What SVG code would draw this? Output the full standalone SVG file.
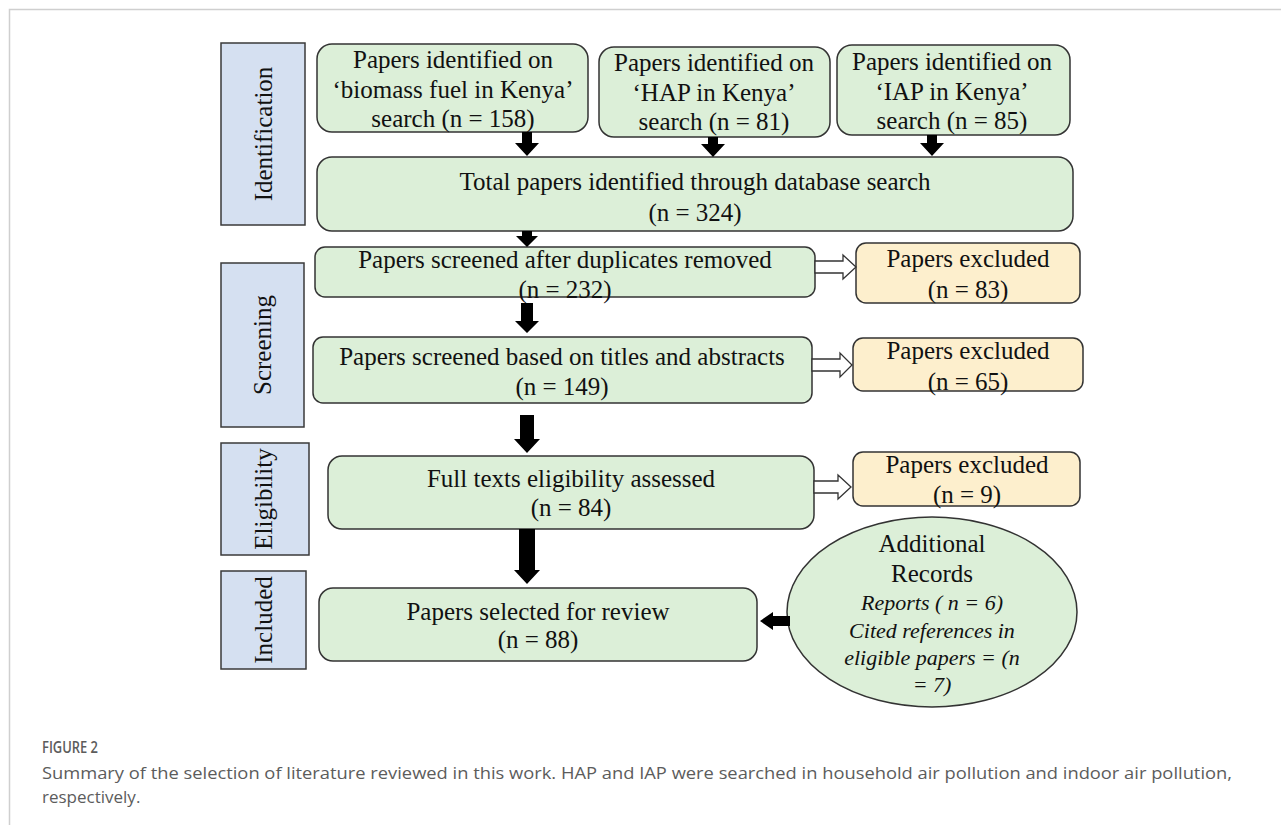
<svg xmlns="http://www.w3.org/2000/svg" width="1281" height="825" viewBox="0 0 1281 825">
<style>
.t{font-family:"Liberation Serif","Times New Roman",serif;font-size:25px;fill:#111;text-anchor:middle}
.ti{font-family:"Liberation Serif","Times New Roman",serif;font-size:22px;font-style:italic;fill:#111;text-anchor:middle}
.stage{fill:#d5e0f1;stroke:#3a3a3a;stroke-width:1.5}
.g{fill:#dcefd8;stroke:#333;stroke-width:1.5}
.o{fill:#fdefcd;stroke:#333;stroke-width:1.5}
.ar{fill:#000}
.ho{fill:#fff;stroke:#333;stroke-width:1.3}
.cap{font-family:"Open Sans","Noto Sans",sans-serif;fill:#5c5c5c}
</style>
<rect width="1281" height="825" fill="#fff"/>
<path d="M9.5 825 V9.5 H1281" fill="none" stroke="#cfcfcf" stroke-width="1.5"/>

<g id="stage-identification"><rect class="stage" x="221" y="43" width="84" height="182"/><text class="t" transform="translate(272,134) rotate(-90)">Identification</text></g>
<g id="stage-screening"><rect class="stage" x="221" y="263" width="83" height="164"/><text class="t" transform="translate(271,345) rotate(-90)">Screening</text></g>
<g id="stage-eligibility"><rect class="stage" x="221" y="443" width="88" height="112"/><text class="t" transform="translate(272,499) rotate(-90)">Eligibility</text></g>
<g id="stage-included"><rect class="stage" x="221" y="571" width="85" height="98"/><text class="t" transform="translate(272,620) rotate(-90)">Included</text></g>

<g id="box-biomass"><rect class="g" x="317" y="44" width="271" height="88" rx="15"/>
<text class="t" x="453" y="68">Papers identified on</text><text class="t" x="453" y="98">‘biomass fuel in Kenya’</text><text class="t" x="453" y="127">search (n = 158)</text></g>
<g id="box-hap"><rect class="g" x="599" y="47" width="231" height="90" rx="15"/>
<text class="t" x="714" y="71">Papers identified on</text><text class="t" x="714" y="101">‘HAP in Kenya’</text><text class="t" x="714" y="130">search (n = 81)</text></g>
<g id="box-iap"><rect class="g" x="837" y="45" width="233" height="90" rx="15"/>
<text class="t" x="952" y="70">Papers identified on</text><text class="t" x="952" y="100">‘IAP in Kenya’</text><text class="t" x="952" y="129">search (n = 85)</text></g>
<g id="box-total"><rect class="g" x="317" y="157" width="756" height="74" rx="15"/>
<text class="t" x="695" y="190">Total papers identified through database search</text><text class="t" x="695" y="221">(n = 324)</text></g>
<g id="box-dup"><rect class="g" x="315" y="247" width="500" height="50" rx="10"/>
<text class="t" x="565" y="268">Papers screened after duplicates removed</text><text class="t" x="565" y="298">(n = 232)</text></g>
<g id="box-titles"><rect class="g" x="313" y="337" width="499" height="66" rx="10"/>
<text class="t" x="562" y="365">Papers screened based on titles and abstracts</text><text class="t" x="562" y="395">(n = 149)</text></g>
<g id="box-fulltext"><rect class="g" x="328" y="456" width="486" height="73" rx="14"/>
<text class="t" x="571" y="487">Full texts eligibility assessed</text><text class="t" x="571" y="516">(n = 84)</text></g>
<g id="box-selected"><rect class="g" x="319" y="588" width="438" height="73" rx="14"/>
<text class="t" x="538" y="620">Papers selected for review</text><text class="t" x="538" y="648">(n = 88)</text></g>

<g id="excl-1"><rect class="o" x="856" y="243" width="224" height="60" rx="10"/>
<text class="t" x="968" y="267">Papers excluded</text><text class="t" x="968" y="298">(n = 83)</text></g>
<g id="excl-2"><rect class="o" x="853" y="338" width="230" height="53" rx="10"/>
<text class="t" x="968" y="359">Papers excluded</text><text class="t" x="968" y="390">(n = 65)</text></g>
<g id="excl-3"><rect class="o" x="853" y="452" width="227" height="54" rx="10"/>
<text class="t" x="967" y="473">Papers excluded</text><text class="t" x="967" y="503">(n = 9)</text></g>

<g id="additional"><ellipse class="g" cx="932" cy="612" rx="145" ry="95"/>
<text class="t" x="932" y="552">Additional</text><text class="t" x="932" y="582">Records</text>
<text class="ti" x="932" y="610">Reports ( n = 6)</text><text class="ti" x="932" y="638">Cited references in</text>
<text class="ti" x="932" y="665">eligible papers = (n</text><text class="ti" x="932" y="692">= 7)</text></g>

<g id="connectors">
<polygon class="ar" points="522,132 532,132 532,143 539,143 527,156 515,143 522,143"/>
<polygon class="ar" points="708,137 718,137 718,144 725,144 713,157 701,144 708,144"/>
<polygon class="ar" points="927,135 937,135 937,143 944,143 932,156 920,143 927,143"/>
<polygon class="ar" points="522,231 532,231 532,236 538,236 527,247 516,236 522,236"/>
<polygon class="ar" points="521,303 533,303 533,321 539,321 527,333 515,321 521,321"/>
<polygon class="ar" points="520,415 534,415 534,439 540,439 527,453 514,439 520,439"/>
<polygon class="ar" points="519,529 535,529 535,570 540,570 527,584 514,570 519,570"/>
<polygon class="ar" points="790,616 773,616 773,612 760,621 773,630 773,626 790,626"/>
<polygon class="ho" points="815,261 843,261 843,255 856,267 843,279 843,273 815,273"/>
<polygon class="ho" points="812,359 840,359 840,353 852,365 840,377 840,371 812,371"/>
<polygon class="ho" points="814,481 838,481 838,475 851,487 838,499 838,493 814,493"/>
</g>

<text class="cap" x="42" y="753" font-size="17" font-weight="600" textLength="56" lengthAdjust="spacingAndGlyphs">FIGURE 2</text>
<text class="cap" x="42" y="779" font-size="17" textLength="1190" lengthAdjust="spacingAndGlyphs">Summary of the selection of literature reviewed in this work. HAP and IAP were searched in household air pollution and indoor air pollution,</text>
<text class="cap" x="42" y="803" font-size="17">respectively.</text>
</svg>
